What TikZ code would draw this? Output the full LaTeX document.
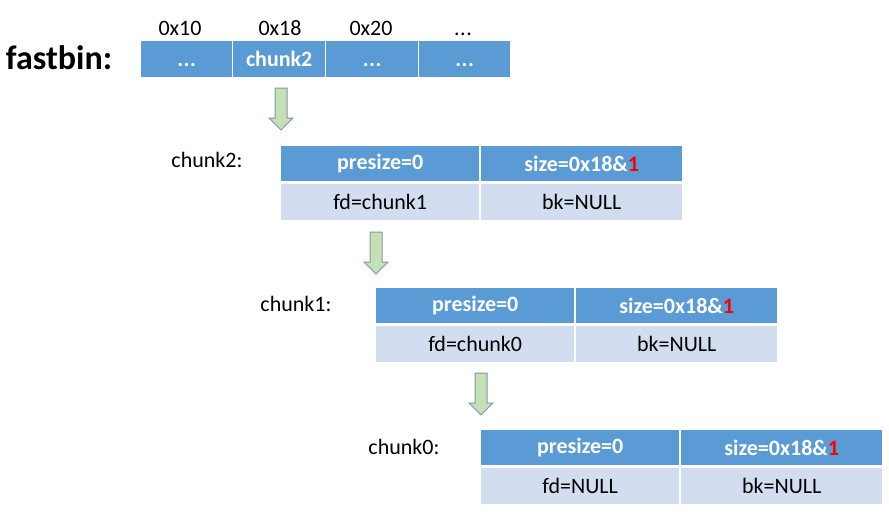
\documentclass[tikz,border=0pt]{standalone}
\usepackage{fontspec}
\setmainfont{Carlito}
\usetikzlibrary{positioning}
\definecolor{hdrblue}{HTML}{5B9BD5}
\definecolor{rowblue}{HTML}{D2DEEF}
\definecolor{arrfill}{HTML}{C5E0B4}
\definecolor{arrline}{HTML}{7F97B0}
\definecolor{redone}{HTML}{FF0000}
\newcommand\threedots{.\kern0.5pt.\kern0.5pt.}
\newcommand\chunktable[4]{% name, x, y, fd
  \node[hdrcell, minimum width=198pt, minimum height=35pt] (#1pre) at (#2,#3) {presize=0};
  \node[hdrcell, minimum width=201pt, minimum height=35pt] (#1size) at (#2+200,#3) {size=0x18\&\textcolor{redone}{1}};
  \node[bodycell, minimum width=198pt, minimum height=36pt] (#1fd) at (#2,#3+38) {fd=#4};
  \node[bodycell, minimum width=201pt, minimum height=36pt] (#1bk) at (#2+200,#3+38) {bk=NULL};
}
\newcommand\blockarrow[3]{% name, cx, ytop
  \coordinate (#1) at (#2,#3);
  \draw[arrowshape] (#2-6,#3) -- (#2+6,#3) -- (#2+6,#3+30) -- (#2+12,#3+30)
    -- (#2,#3+42) -- (#2-12,#3+30) -- (#2-6,#3+30) -- cycle;
}
\begin{document}
\begin{tikzpicture}[x=1pt,y=-1pt,
  hdrcell/.style={anchor=north west, inner sep=0pt, fill=hdrblue, text=white, font=\fontsize{22}{24}\selectfont\bfseries},
  bodycell/.style={anchor=north west, inner sep=0pt, fill=rowblue, text=black, font=\fontsize{22}{24}\selectfont},
  bincell/.style={anchor=north west, inner sep=0pt, fill=hdrblue, text=white, minimum height=36pt, font=\fontsize{22}{24}\selectfont\bfseries},
  plainlabel/.style={inner sep=0pt, text=black, font=\fontsize{22}{24}\selectfont},
  arrowshape/.style={fill=arrfill, draw=arrline, line width=1pt, line join=miter}]
\useasboundingbox (0,0) rectangle (889,512);
% fastbin
\node[inner sep=0pt, font=\fontsize{34}{36}\selectfont\bfseries] (fastbin) at (59,58) {fastbin:};
\node[bincell, minimum width=91pt] (b0) at (141,41) {\vphantom{chunk2}\threedots};
\node[bincell, minimum width=92pt] (b1) at (233,41) {chunk2};
\node[bincell, minimum width=92pt] (b2) at (326,41) {\vphantom{chunk2}\threedots};
\node[bincell, minimum width=91pt] (b3) at (419,41) {\vphantom{chunk2}\threedots};
\node[plainlabel, anchor=base] (h0) at (180,35) {0x10};
\node[plainlabel, anchor=base] (h1) at (280,35) {0x18};
\node[plainlabel, anchor=base] (h2) at (371,35) {0x20};
\node[plainlabel, anchor=base] (h3) at (463,35) {\threedots};
% arrows
\blockarrow{a1}{281}{88}
\blockarrow{a2}{376}{232}
\blockarrow{a3}{481}{373}
% chunks
\node[plainlabel] (l2) at (207,160) {chunk2:};
\chunktable{c2}{281}{146}{chunk1}
\node[plainlabel] (l1) at (296,304) {chunk1:};
\chunktable{c1}{376}{288}{chunk0}
\node[plainlabel] (l0) at (404,447) {chunk0:};
\chunktable{c0}{481}{430}{NULL}
\end{tikzpicture}
\end{document}
